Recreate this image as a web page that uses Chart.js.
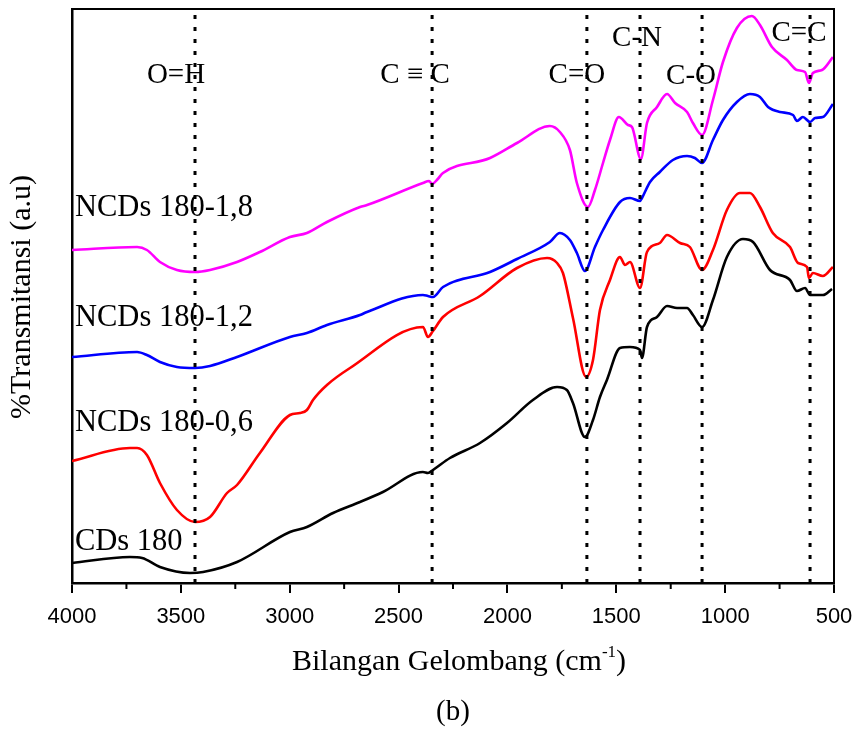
<!DOCTYPE html>
<html>
<head>
<meta charset="utf-8">
<script src="https://cdn.jsdelivr.net/npm/chart.js@4.4.0/dist/chart.umd.min.js"></script>
<style>
  html, body { margin: 0; padding: 0; background: #fff; }
</style>
</head>
<body>
<canvas id="c" width="859" height="729"></canvas>
<script>
// spectra: [wavenumber (cm-1), transmittance (a.u.)]
const cds180 = [[4000,20],[3734,26],[3678,25],[3596,16],[3458,10],[3398,11],[3242,21],[2999,51],[2921,56],[2801,70],[2677,81],[2572,91],[2388,111],[2365,110],[2342,113],[2264,125],[2126,140],[2002,160],[1883,183],[1772,196],[1727,193],[1699,180],[1644,146],[1607,163],[1575,186],[1543,203],[1483,235],[1437,236],[1391,233],[1382,225],[1359,256],[1313,266],[1267,277],[1221,275],[1175,275],[1148,268],[1106,256],[1056,283],[992,326],[918,344],[872,341],[794,313],[702,303],[670,292],[633,295],[610,288],[551,288],[509,294]];
const ncds06 = [[4000,122],[3734,135],[3701,135],[3656,128],[3596,100],[3518,73],[3435,61],[3366,66],[3288,90],[3242,98],[3137,130],[2999,168],[2953,170],[2921,173],[2893,183],[2829,198],[2723,215],[2388,256],[2365,246],[2342,252],[2296,266],[2126,287],[1956,315],[1818,325],[1772,320],[1745,310],[1699,265],[1639,206],[1607,223],[1575,273],[1529,303],[1483,326],[1460,318],[1437,321],[1391,295],[1359,331],[1300,340],[1267,348],[1207,340],[1162,336],[1106,313],[1056,333],[992,373],[932,390],[886,390],[840,376],[781,350],[702,336],[665,320],[624,316],[615,305],[597,310],[551,307],[505,316]];
const ncds12 = [[4000,226],[3701,231],[3656,228],[3596,221],[3518,216],[3435,215],[3366,217],[3242,226],[2999,246],[2921,250],[2829,258],[2677,268],[2645,271],[2388,288],[2365,287],[2342,286],[2296,296],[2080,311],[1956,324],[1805,341],[1759,350],[1713,343],[1681,330],[1644,312],[1598,336],[1561,353],[1483,381],[1437,385],[1391,382],[1382,385],[1345,401],[1300,411],[1240,423],[1175,427],[1139,425],[1106,420],[1056,443],[1010,463],[946,481],[886,489],[840,486],[803,476],[748,471],[688,468],[670,462],[643,466],[610,461],[587,465],[551,466],[505,479]];
const ncds18 = [[4000,333],[3701,336],[3656,333],[3596,321],[3518,313],[3435,311],[3366,313],[3242,321],[3137,331],[2999,346],[2921,350],[2829,361],[2677,376],[2645,378],[2388,400],[2360,402],[2346,399],[2320,404],[2296,410],[2080,425],[1956,440],[1805,457],[1759,451],[1713,433],[1681,400],[1630,376],[1598,393],[1561,420],[1529,443],[1488,466],[1446,458],[1428,456],[1387,424],[1359,460],[1313,476],[1267,489],[1230,480],[1175,471],[1148,460],[1106,448],[1056,483],[1010,521],[946,555],[877,567],[840,558],[785,536],[716,523],[670,513],[633,511],[615,500],[597,510],[555,513],[505,526]];

const seriesNames = ['CDs 180', 'NCDs 180-0,6', 'NCDs 180-1,2', 'NCDs 180-1,8'];
const seriesColors = ['#000000', '#ff0000', '#0000ff', '#ff00ff'];
const seriesData = [cds180, ncds06, ncds12, ncds18];

const bandNames = ['O=H', 'C \u2261 C', 'C=O', 'C-N', 'C-O', 'C=C'];
const bandWavenumbers = [3435, 2346, 1635, 1391, 1106, 610];

const xTicks = [4000, 3500, 3000, 2500, 2000, 1500, 1000, 500];
const xMinorTicks = [3750, 3250, 2750, 2250, 1750, 1250, 750];

const Y_MAX = 574;

const datasets = [];
bandWavenumbers.forEach(w => {
  datasets.push({
    data: [{x: w, y: 0}, {x: w, y: Y_MAX}],
    borderColor: '#000',
    borderWidth: 3,
    borderDash: [4, 8],
    pointRadius: 0,
    order: 0
  });
});
seriesData.forEach((arr, i) => {
  datasets.push({
    label: seriesNames[i],
    data: arr.map(([x, y]) => ({x, y})),
    borderColor: seriesColors[i],
    borderWidth: 2.6,
    pointRadius: 0,
    cubicInterpolationMode: 'monotone',
    order: 1
  });
});

const serif = '"Liberation Serif", "Times New Roman", serif';

const decor = {
  id: 'decor',
  afterDraw(chart) {
    const {ctx, chartArea: a, scales} = chart;
    const xs = scales.x;
    ctx.save();
    // top and right frame
    ctx.strokeStyle = '#000';
    ctx.lineWidth = 2;
    ctx.beginPath();
    ctx.moveTo(a.left, a.top);
    ctx.lineTo(a.right, a.top);
    ctx.lineTo(a.right, a.bottom);
    ctx.stroke();
    // minor ticks
    ctx.beginPath();
    xMinorTicks.forEach(v => {
      const px = xs.getPixelForValue(v);
      ctx.moveTo(px, a.bottom);
      ctx.lineTo(px, a.bottom + 6);
    });
    ctx.stroke();

    ctx.fillStyle = '#000';
    // band labels
    const dx = [-19, -17, -10, -3, -11, -11];
    const ly = [75, 75, 75, 38, 76, 33];
    ctx.font = '29px ' + serif;
    ctx.textAlign = 'center';
    ctx.textBaseline = 'middle';
    bandNames.forEach((t, i) => {
      ctx.fillText(t, xs.getPixelForValue(bandWavenumbers[i]) + dx[i], ly[i]);
    });

    // series labels
    const sy = [542, 423, 318, 208];
    ctx.font = '30.5px ' + serif;
    ctx.textAlign = 'left';
    seriesNames.forEach((t, i) => ctx.fillText(t, a.left + 3, sy[i]));

    // y title
    ctx.save();
    ctx.font = '30px ' + serif;
    ctx.translate(22, (a.top + a.bottom) / 2 + 1);
    ctx.rotate(-Math.PI / 2);
    ctx.textAlign = 'center';
    ctx.fillText('%Transmitansi (a.u)', 0, 0);
    ctx.restore();

    // x title with superscript
    ctx.textBaseline = 'alphabetic';
    ctx.textAlign = 'left';
    const main = 'Bilangan Gelombang (cm';
    const sup = '-1';
    const close = ')';
    ctx.font = '30px ' + serif;
    const w1 = ctx.measureText(main).width;
    const w3 = ctx.measureText(close).width;
    ctx.font = '17px ' + serif;
    const w2 = ctx.measureText(sup).width;
    let x0 = 459 - (w1 + w2 + w3) / 2;
    const base = 670;
    ctx.font = '30px ' + serif;
    ctx.fillText(main, x0, base);
    ctx.font = '17px ' + serif;
    ctx.fillText(sup, x0 + w1, base - 13);
    ctx.font = '30px ' + serif;
    ctx.fillText(close, x0 + w1 + w2, base);

    ctx.font = '29px ' + serif;
    ctx.textAlign = 'center';
    ctx.fillText('(b)', 453, 720);
    ctx.restore();
  }
};

new Chart(document.getElementById('c'), {
  type: 'line',
  data: { datasets },
  options: {
    responsive: false,
    animation: false,
    layout: { padding: { top: 9, right: 25, left: 0, bottom: 0 } },
    plugins: { legend: { display: false }, tooltip: { enabled: false } },
    scales: {
      x: {
        type: 'linear',
        min: 500,
        max: 4000,
        reverse: true,
        afterFit: s => { s.height = 146; s.paddingLeft = 0; s.paddingRight = 0; },
        afterBuildTicks: s => { s.ticks = xTicks.map(v => ({value: v})); },
        ticks: {
          callback: v => String(v),
          color: '#000',
          font: { family: '"Liberation Sans", Arial, sans-serif', size: 22 },
          padding: 11,
          maxRotation: 0,
          autoSkip: false
        },
        grid: { drawOnChartArea: false, drawTicks: true, tickLength: 10, color: '#000', lineWidth: 2 },
        border: { color: '#000', width: 2.5 }
      },
      y: {
        type: 'linear',
        min: 0,
        max: Y_MAX,
        afterFit: s => { s.width = 72; },
        ticks: { display: false },
        grid: { display: false },
        border: { color: '#000', width: 2.5 }
      }
    }
  },
  plugins: [decor]
});
</script>
</body>
</html>
